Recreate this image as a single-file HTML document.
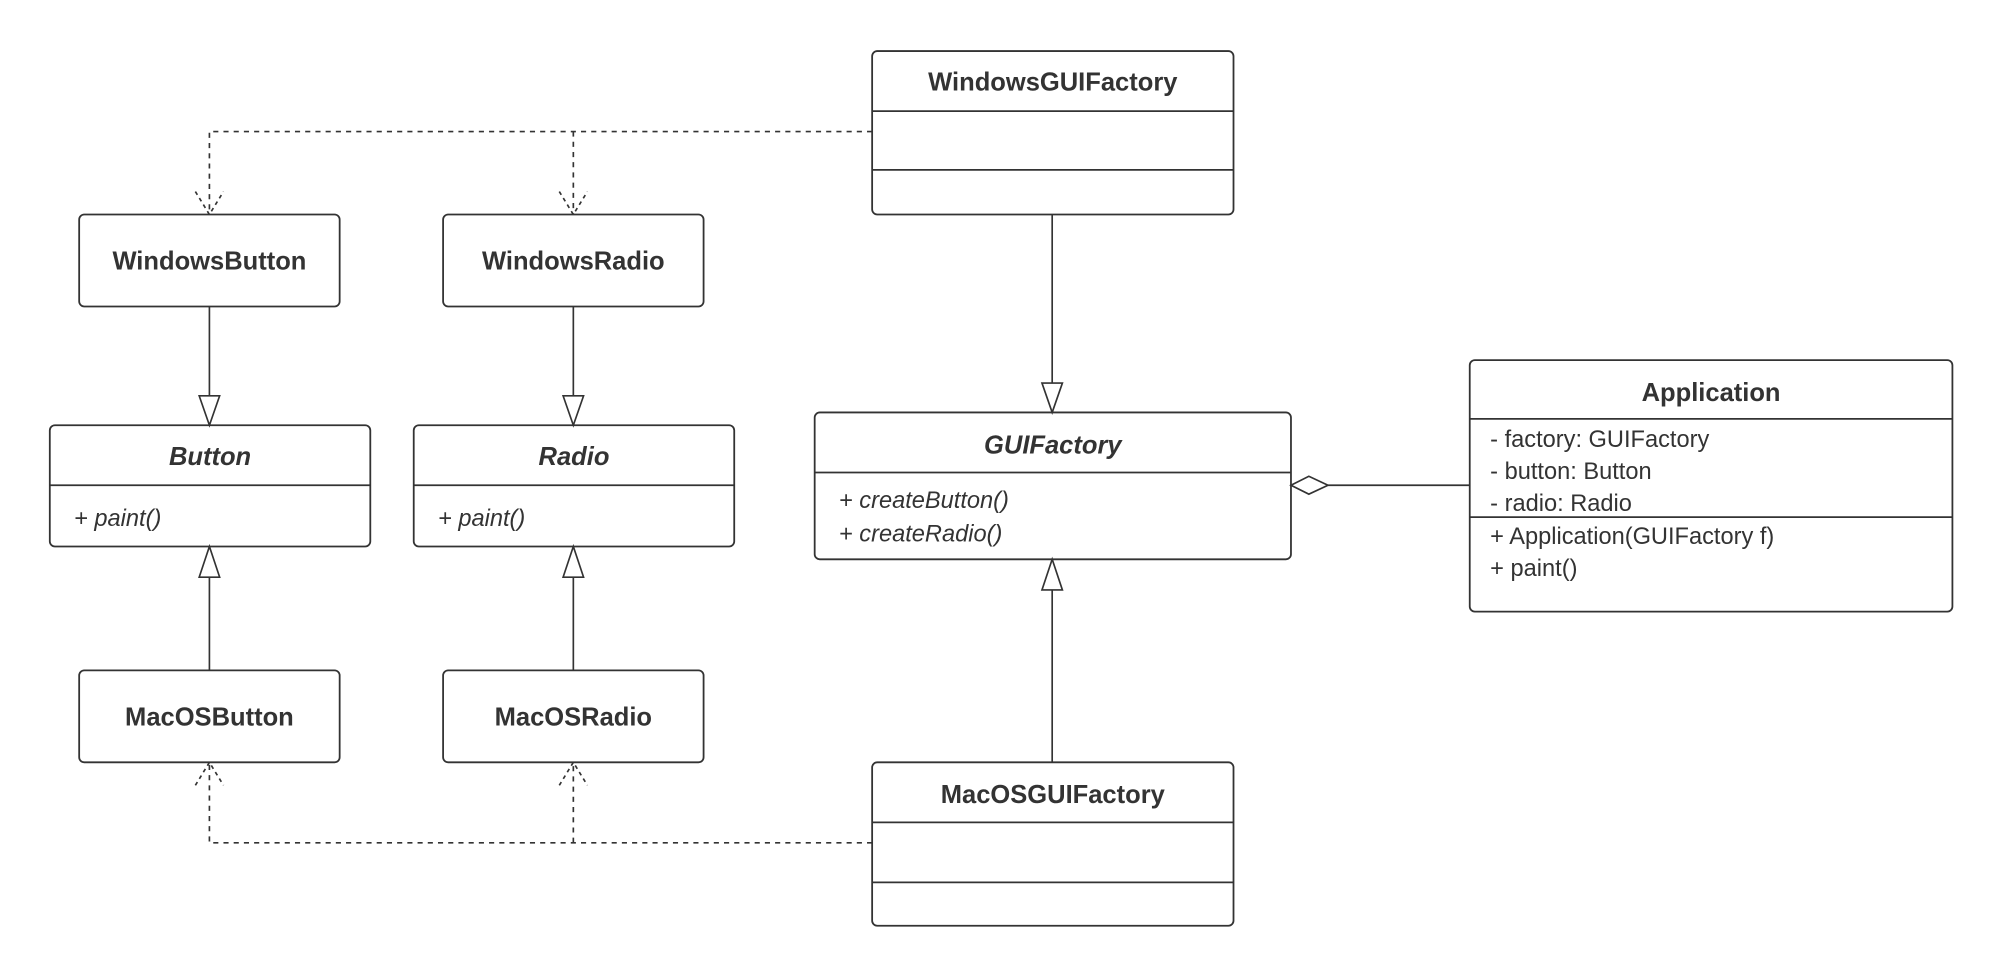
<!DOCTYPE html>
<html><head><meta charset="utf-8"><style>
html,body{margin:0;padding:0;background:#fff;}
svg{display:block;}
text{font-family:"Liberation Sans",sans-serif;fill:#333;}
.t{font-weight:bold;font-size:20px;text-anchor:middle;}
.ti{font-weight:bold;font-style:italic;font-size:20px;text-anchor:middle;}
.m{font-size:18.5px;}
.mi{font-size:18.5px;font-style:italic;}
</style></head><body>
<svg width="1992" height="972" viewBox="0 0 1560 761.2" preserveAspectRatio="none">
<g fill="#fff" stroke="#333" stroke-width="1.4">
<rect x="683" y="40" width="283" height="128" rx="4"/>
<line x1="683" y1="87" x2="966" y2="87"/><line x1="683" y1="133" x2="966" y2="133"/>
<rect x="683" y="597" width="283" height="128" rx="4"/>
<line x1="683" y1="644" x2="966" y2="644"/><line x1="683" y1="691" x2="966" y2="691"/>
<rect x="62" y="168" width="204" height="72" rx="4"/>
<rect x="347" y="168" width="204" height="72" rx="4"/>
<rect x="62" y="525" width="204" height="72" rx="4"/>
<rect x="347" y="525" width="204" height="72" rx="4"/>
<rect x="39" y="333" width="251" height="95" rx="4"/><line x1="39" y1="380" x2="290" y2="380"/>
<rect x="324" y="333" width="251" height="95" rx="4"/><line x1="324" y1="380" x2="575" y2="380"/>
<rect x="638" y="323" width="373" height="115" rx="4"/><line x1="638" y1="370" x2="1011" y2="370"/>
<rect x="1151" y="282" width="378" height="197" rx="4"/><line x1="1151" y1="328" x2="1529" y2="328"/><line x1="1151" y1="405" x2="1529" y2="405"/>
</g>
<g fill="none" stroke="#333" stroke-width="1.3">
<path d="M683 103 H164 V168 M449 103 V168" stroke-dasharray="4 4"/>
<path d="M683 660 H164 V597 M449 660 V597" stroke-dasharray="4 4"/>
<path d="M153 150 L164 168 L175 150 M438 150 L449 168 L460 150 M153 615 L164 597 L175 615 M438 615 L449 597 L460 615" stroke-dasharray="3 3"/>
<path d="M164 240 V310 M449 240 V310 M164 525 V452 M449 525 V452 M824 168 V300 M824 597 V462 M1040 380 H1151"/>
</g>
<g fill="#fff" stroke="#333" stroke-width="1.3">
<path d="M156 310 L172 310 L164 333 Z"/><path d="M441 310 L457 310 L449 333 Z"/>
<path d="M156 452 L172 452 L164 428 Z"/><path d="M441 452 L457 452 L449 428 Z"/>
<path d="M816 300 L832 300 L824 323 Z"/><path d="M816 462 L832 462 L824 438 Z"/>
<path d="M1011 380 L1025 373 L1040 380 L1025 387 Z"/>
</g>
<text class="t" x="824.5" y="71">WindowsGUIFactory</text>
<text class="t" x="824.5" y="629">MacOSGUIFactory</text>
<text class="t" x="164" y="211">WindowsButton</text>
<text class="t" x="449" y="211">WindowsRadio</text>
<text class="t" x="164" y="568">MacOSButton</text>
<text class="t" x="449" y="568">MacOSRadio</text>
<text class="ti" x="164.5" y="364">Button</text>
<text class="ti" x="449.5" y="364">Radio</text>
<text class="mi" x="58" y="412">+ paint()</text>
<text class="mi" x="343" y="412">+ paint()</text>
<text class="ti" x="824.5" y="355">GUIFactory</text>
<text class="mi" x="657" y="398">+ createButton()</text>
<text class="mi" x="657" y="424">+ createRadio()</text>
<text class="t" x="1340" y="314">Application</text>
<text class="m" x="1167" y="350">- factory: GUIFactory</text>
<text class="m" x="1167" y="375">- button: Button</text>
<text class="m" x="1167" y="400">- radio: Radio</text>
<text class="m" x="1167" y="426">+ Application(GUIFactory f)</text>
<text class="m" x="1167" y="451">+ paint()</text>
</svg>
</body></html>
